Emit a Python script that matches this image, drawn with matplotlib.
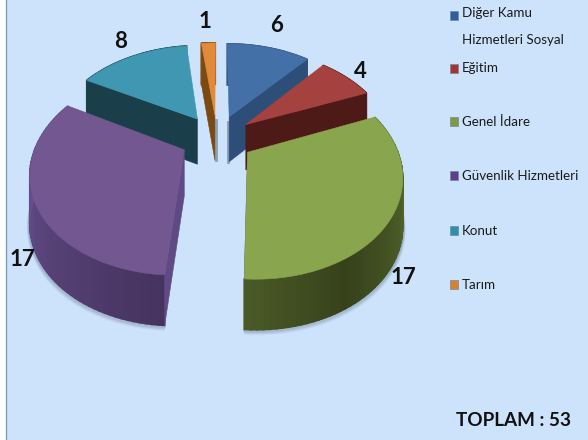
import numpy as np
import matplotlib
matplotlib.use("Agg")
import matplotlib.pyplot as plt
from matplotlib.patches import Polygon, Rectangle
from matplotlib.colors import to_rgb

categories = ["Diğer Kamu\nHizmetleri Sosyal", "Eğitim", "Genel İdare", "Güvenlik Hizmetleri", "Konut", "Tarım"]
values = [6, 4, 17, 17, 8, 1]
total_label = "TOPLAM : 53"

top_colors = ["#4470A8", "#A5423F", "#89A54D", "#735790", "#3F97B2", "#E08A3A"]
face_colors = ["#2E4E7A", "#4E1A17", "#4A5A25", "#5F4A85", "#1B3F4A", "#7A4A12"]
side_light = ["#3A5F90", "#7A2E2B", "#5A7032", "#67508E", "#25606F", "#A8682A"]
side_dark = ["#2E4E7A", "#4E1A17", "#37411A", "#46335F", "#1B3F4A", "#7A4A12"]
legend_colors = ["#2F5F9A", "#A8322F", "#7F9A3F", "#5F3F8A", "#2F8FA5", "#D9822B"]
label_pos = [(277, 26), (360, 71), (403, 278), (22, 260), (121, 42), (205, 21)]
legend_y = [16, 69, 122, 176, 231, 285]
legend_text_y = [13, 40, 68, 122, 176, 231, 285]

CX, CY, R, A, K, EXPL = 217, 138, 146, 95, 0.20, 0.25
BG = "#CDE3FB"
FONT = ["Lato", "DejaVu Sans"]


def project(u, v):
    s = 1 / (1 + K * v)
    return CX + R * u * s, CY - A * v * s


def depth(v):
    return 46 - 4 * v


def plane(theta, mid, r=1.0):
    u = r * np.sin(theta) + EXPL * np.sin(mid)
    v = r * np.cos(theta) + EXPL * np.cos(mid)
    return u, v


fig = plt.figure(figsize=(5.88, 4.40), dpi=100, facecolor="white")
ax = fig.add_axes([0, 0, 1, 1])
ax.set_xlim(0, 588)
ax.set_ylim(440, 0)
ax.axis("off")
ax.add_patch(Rectangle((6, -2), 590, 444, fc=BG, ec="#7E9FBE", lw=1))

vals = np.array(values, float)
edges = np.radians(np.concatenate([[0], np.cumsum(vals)]) / vals.sum() * 360)
order = [4, 0, 5, 1, 3, 2]

for i in order:
    a0, a1 = edges[i], edges[i + 1]
    mid = (a0 + a1) / 2
    th = np.linspace(a0, a1, 60)
    u, v = plane(th, mid)
    x, y = project(u, v)
    d = depth(v)
    au, av = plane(0.0, mid, 0.0)
    ax_, ay_ = project(au, av)
    ad = depth(av)
    z = 2 + order.index(i)

    # soft shadow round the near rim of the two big slices
    if i in (2, 3):
        for off, al in ((4, 0.05), (3, 0.07), (2, 0.09), (1, 0.12)):
            ax.plot(x + (off if i == 2 else -off) * 0.4, y + d + off, color="#20304a", alpha=al, lw=2, zorder=z - 0.5)
    if i in (0, 5):
        sx = ax_ + (-1.5 if i == 0 else 1.5)
        ax.plot([sx, sx], [ay_ + 5, ay_ + ad], color="#3a4a60", alpha=0.45, lw=2, zorder=z - 0.5)

    # outer rim, shaded along the arc
    c0, c1 = np.array(to_rgb(side_light[i])), np.array(to_rgb(side_dark[i]))
    for j in range(len(th) - 1):
        deg = np.degrees(th[j])
        if i == 2:
            t = np.clip(abs(deg - 150) / 60, 0, 1)
        elif i == 3:
            t = np.clip((deg - 183) / 87, 0, 1)
        else:
            t = 0.5
        col = c1 + (c0 - c1) * t
        q = [(x[j], y[j]), (x[j + 1], y[j + 1]), (x[j + 1], y[j + 1] + d[j + 1]), (x[j], y[j] + d[j])]
        ax.add_patch(Polygon(q, fc=col, ec=col, lw=1.2, zorder=z))

    # radial face that faces the viewer
    k = -1 if mid < np.pi else 0
    face = [(ax_, ay_), (x[k], y[k]), (x[k], y[k] + d[k]), (ax_, ay_ + ad)]
    ax.add_patch(Polygon(face, fc=face_colors[i], ec=face_colors[i], lw=0.4, zorder=z + 0.1))

    # top
    top = np.vstack([[ax_, ay_], np.c_[x, y]])
    ax.add_patch(Polygon(top, fc=top_colors[i], ec=top_colors[i], lw=0.4, zorder=z + 0.2))

for val, (lx, ly) in zip(values, label_pos):
    ax.text(lx, ly, str(val), fontsize=16, fontweight="bold", family=FONT, color="#111111",
            ha="center", va="center", zorder=20)

for col, ly in zip(legend_colors, legend_y):
    ax.add_patch(Rectangle((450, ly - 4.5), 8, 9, fc=col, ec="#6f8aa8", lw=0.5, zorder=20))

legend_lines = [s for c in categories for s in c.split("\n")]
for s, ly in zip(legend_lines, legend_text_y):
    ax.text(462, ly, s, fontsize=9.6, family=FONT, color="#1a1a1a", ha="left", va="center", zorder=20)

ax.text(456, 420, total_label, fontsize=13.6, fontweight="bold", family=FONT, color="#111111",
        ha="left", va="center", zorder=20)

fig.savefig("out.png", dpi=100, facecolor="white")
